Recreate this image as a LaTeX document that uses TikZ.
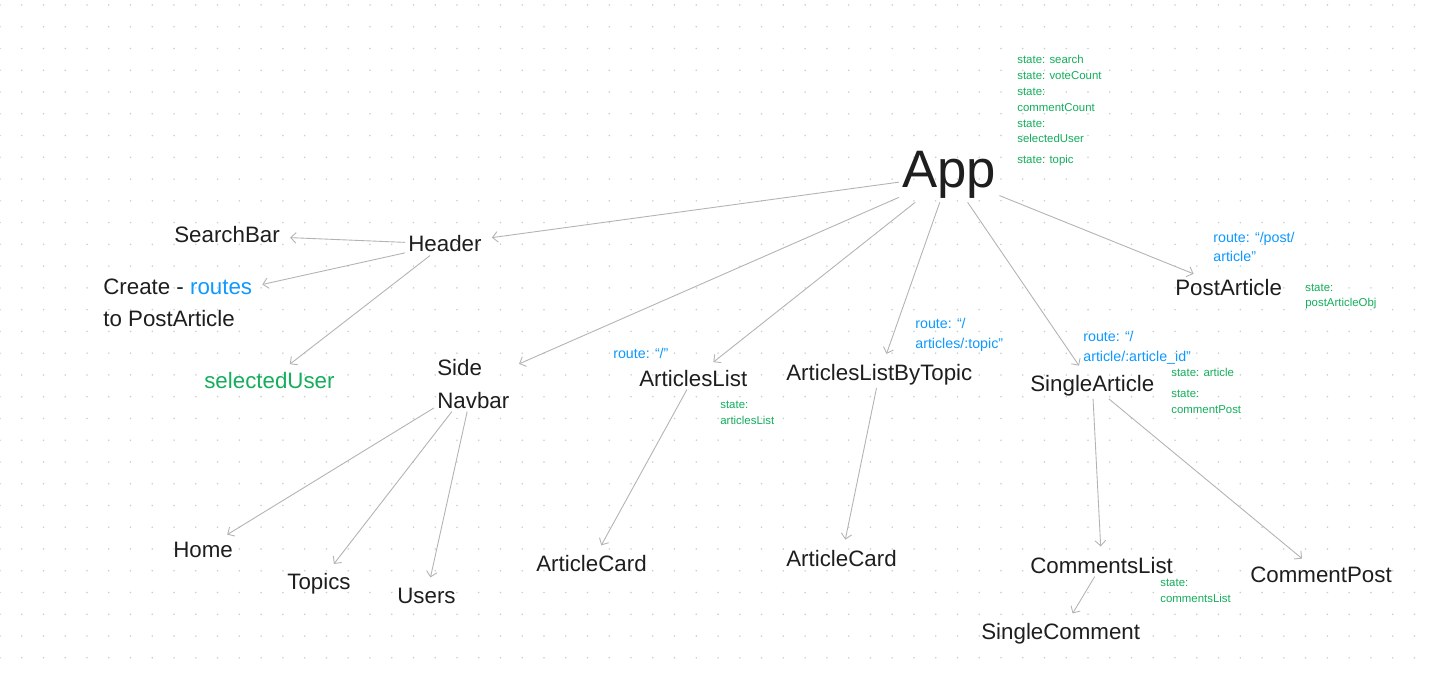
\documentclass[tikz,border=0pt]{standalone}
\usepackage{fontspec}
\setmainfont{Liberation Sans}
\usetikzlibrary{arrows.meta}
\definecolor{ink}{HTML}{1E1E1E}
\definecolor{routec}{HTML}{0D99FF}
\definecolor{statec}{HTML}{14AE5C}
\definecolor{linkc}{HTML}{B3B3B3}
\definecolor{dotc}{HTML}{CDCDCD}
\newcommand{\compfont}{\fontsize{12.7}{18.4}\selectfont}
\newcommand{\appfont}{\fontsize{30}{34}\selectfont}
\newcommand{\routefont}{\fontsize{8.1}{11.3}\selectfont}
\newcommand{\statefont}{\fontsize{6.5}{9}\selectfont}
\begin{document}
\begin{tikzpicture}[x=0.02cm,y=-0.02cm,inner sep=1.7pt]
    \tikzstyle{comp}=[font=\compfont,text=ink,anchor=base west,align=left]
    \tikzstyle{route}=[font=\routefont,text=routec,anchor=base west,align=left]
    \tikzstyle{state}=[font=\statefont,text=statec,anchor=base west,align=left]
    \tikzstyle{link}=[draw=linkc,line width=0.5pt,-{Straight Barb[length=3pt,width=6pt]},shorten >=4pt]
    \fill[white] (0,0) rectangle (1429,675);
    \useasboundingbox (0,0) rectangle (1429,675);
    \foreach \i in {0,...,65} {
        \foreach \j in {0,...,30} {
            \fill[dotc] (\i*21.76,5+\j*21.76) circle (0.5pt);
        };
    };

    \node[comp,font=\appfont] (app) at (899,188) {App};
    \node[state] (appstate) at (1014,143) {state: search\\state: voteCount\\state:\\commentCount\\state:\\selectedUser};
    \node[state] (topicstate) at (1014,164) {state: topic};

    \node[comp] (header) at (405,252) {Header};
    \node[comp] (search) at (171,243) {SearchBar};
    \node[comp] (create) at (100,327) {Create - \textcolor{routec}{routes}\\to PostArticle};
    \node[comp,text=statec] (seluser) at (201,388) {selectedUser};

    \node[comp] (nav) at (434,408) {Side\\Navbar};
    \node[comp] (home) at (170,557) {Home};
    \node[comp] (topics) at (284,589) {Topics};
    \node[comp] (users) at (394,603) {Users};

    \node[route] (r1) at (610,358) {route: “/”};
    \node[comp] (alist) at (636,386) {ArticlesList};
    \node[state] (s1) at (717,424) {state:\\articlesList};
    \node[comp] (card1) at (533,571) {ArticleCard};

    \node[route] (r2) at (912,348) {route: “/\\articles/:topic”};
    \node[comp] (bytopic) at (783,380) {ArticlesListByTopic};
    \node[comp] (card2) at (783,566) {ArticleCard};

    \node[route] (r3) at (1080,361) {route: “/\\article/:article\_id”};
    \node[comp] (single) at (1027,391) {SingleArticle};
    \node[state] (s2) at (1168,377) {state: article};
    \node[state] (s3) at (1168,413) {state:\\commentPost};
    \node[comp] (clist) at (1027,573) {CommentsList};
    \node[state] (s4) at (1157,602) {state:\\commentsList};
    \node[comp] (cpost) at (1247,582) {CommentPost};
    \node[comp] (scomment) at (978,639) {SingleComment};

    \node[route] (r4) at (1210,262) {route: “/post/\\article”};
    \node[comp] (post) at (1172,296) {PostArticle};
    \node[state] (s5) at (1302,307) {state:\\postArticleObj};

    \foreach \t in {header,nav,alist,bytopic,single,post}
        \draw[link] (app) -- (\t);
    \foreach \t in {search,create,seluser}
        \draw[link] (header) -- (\t);
    \foreach \t in {home,topics,users}
        \draw[link] (nav) -- (\t);
    \draw[link] (alist) -- (card1);
    \draw[link] (bytopic) -- (card2);
    \draw[link] (single) -- (clist);
    \draw[link] (single) -- (cpost);
    \draw[link] (clist) -- (scomment);
\end{tikzpicture}
\end{document}
